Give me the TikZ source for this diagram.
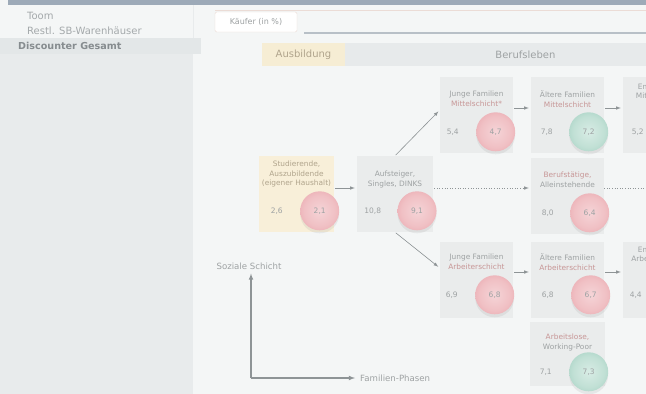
\documentclass[tikz,border=0pt]{standalone}
\usepackage{fontspec}
\setmainfont{DejaVu Sans}
\usetikzlibrary{arrows}
\usetikzlibrary{positioning}
\usetikzlibrary{shadows}

\definecolor{pagebg}{HTML}{F4F6F6}
\definecolor{panelbg}{HTML}{E8EBEC}
\definecolor{rowbg}{HTML}{E3E7E8}
\definecolor{topbar}{HTML}{9DAAB8}
\definecolor{menugray}{HTML}{A4A9AB}
\definecolor{menudark}{HTML}{868C8F}
\definecolor{boxgray}{HTML}{EAECEC}
\definecolor{boxyellow}{HTML}{F8EFD9}
\definecolor{hdryellow}{HTML}{F6EDD4}
\definecolor{hdrgray}{HTML}{E7EAEB}
\definecolor{textgray}{HTML}{9EA2A3}
\definecolor{textwarm}{HTML}{B0A48C}
\definecolor{linkred}{HTML}{C79696}
\definecolor{linegray}{HTML}{8E9496}
\definecolor{tabborder}{HTML}{EBDCD6}
\definecolor{tabrule}{HTML}{B8C0C7}
\definecolor{ballred0}{HTML}{F5D4D7}
\definecolor{ballred1}{HTML}{F0C0C4}
\definecolor{ballred2}{HTML}{E79EA6}
\definecolor{ballred3}{HTML}{EAAEB4}
\definecolor{ballred4}{HTML}{F1CFD2}
\definecolor{ballgreen0}{HTML}{D8ECE5}
\definecolor{ballgreen1}{HTML}{C1E0D5}
\definecolor{ballgreen2}{HTML}{9ACBBB}
\definecolor{ballgreen3}{HTML}{AFD6C9}
\definecolor{ballgreen4}{HTML}{CFE6DE}

\pgfdeclareradialshading{redshade}{\pgfpoint{0bp}{0bp}}{%
  color(0bp)=(ballred0); color(20bp)=(ballred1); color(38bp)=(ballred2);
  color(46bp)=(ballred3); color(50bp)=(ballred4)}
\pgfdeclareradialshading{greenshade}{\pgfpoint{0bp}{0bp}}{%
  color(0bp)=(ballgreen0); color(20bp)=(ballgreen1); color(38bp)=(ballgreen2);
  color(46bp)=(ballgreen3); color(50bp)=(ballgreen4)}

\tikzset{
  box/.style={fill=boxgray, minimum width=73pt, minimum height=76pt, inner sep=0pt},
  ybox/.style={box, fill=boxyellow},
  title/.style={font=\fontsize{7.4}{9.5}\selectfont, text=textgray, align=center, inner sep=0pt},
  pct/.style={font=\fontsize{7.5}{8}\selectfont, text=textgray, minimum width=16pt, inner sep=0pt},
  ball/.style={circle, minimum size=39pt, inner sep=0pt, font=\fontsize{7.5}{8}\selectfont,
    text=textgray, drop shadow={opacity=0.12, shadow xshift=0pt, shadow yshift=-3pt}},
  redball/.style={ball, shading=redshade},
  greenball/.style={ball, shading=greenshade},
  link/.style={->, draw=linegray, line width=0.6pt, shorten >=2pt, shorten <=1pt},
  dotlink/.style={link, dotted},
  axisline/.style={->, draw=linegray, line width=1.1pt},
  axislbl/.style={font=\fontsize{8.6}{10}\selectfont, text=textgray, inner sep=2pt},
  hdr/.style={minimum height=23pt, inner sep=0pt, font=\fontsize{10}{12}\selectfont},
  menu/.style={font=\fontsize{10}{12}\selectfont, text=menugray, inner sep=0pt, anchor=west},
}

\begin{document}
\begin{tikzpicture}[x=1pt, y=-1pt, >=latex]
  \useasboundingbox (0,0) rectangle (646,394);
  \clip (0,0) rectangle (646,394);

  % Hintergrund
  \fill [pagebg] (0,0) rectangle (646,394);
  \fill [panelbg] (0,54) rectangle (193,394);
  \fill [rowbg] (0,38) rectangle (201,54);
  \fill [topbar] (8,0) rectangle (646,5);
  \draw [panelbg, line width=0.8pt] (193.5,5) -- (193.5,38);

  % Menue links
  \node [menu] (toom) at (27,16) {Toom};
  \node [menu] (restl) at (27,31) {Restl. SB-Warenhäuser};
  \node [menu, text=menudark, font=\fontsize{9.6}{12}\selectfont\bfseries] (discounter) at (18,46) {Discounter Gesamt};

  % Reiter
  \draw [tabborder, line width=0.5pt] (215,10) -- (646,10);
  \node [draw=tabborder, fill=white, rounded corners=1.5pt, minimum width=82pt, minimum height=20pt,
    font=\fontsize{8}{9}\selectfont, text=textgray] (kaeufer) at (256,22) {Käufer (in \%)};
  \draw [tabrule, line width=1.2pt] (304,33) -- (646,33);

  \node [hdr, fill=hdryellow, text=textwarm, minimum width=83pt] (ausbildung) at (303.5,54.5) {Ausbildung};
  \node [hdr, fill=hdrgray, text=textgray, minimum width=360pt, right = 0pt of ausbildung] (berufsleben) {Berufsleben};

  % Ausbildung
  \node [ybox, minimum width=75pt] (studbox) at (296.5,194) {};
  \node [title, text=textwarm, below = 5pt of studbox.north] (studtext) {Studierende,\\Auszubildende\\(eigener Haushalt)};
  \node [pct] (studpct) at ([shift={(18,55)}]studbox.north west) {2,6};
  \node [redball, right = 15pt of studpct] (studball) {2,1};

  \node [box, minimum width=76pt] (aufbox) at (395,194) {};
  \node [title, below = 15pt of aufbox.north] (auftext) {Aufsteiger,\\Singles, DINKS};
  \node [pct] (aufpct) at ([shift={(16,55)}]aufbox.north west) {10,8};
  \node [redball, right = 16pt of aufpct] (aufball) {9,1};

  % Mittelschicht
  \node [box] (jmbox) at (476.5,115) {};
  \node [title, below = 14pt of jmbox.north] (jmtext) {Junge Familien\\\textcolor{linkred}{Mittelschicht*}};
  \node [pct] (jmpct) at ([shift={(13,55)}]jmbox.north west) {5,4};
  \node [redball, right = 15pt of jmpct] (jmball) {4,7};

  \node [box] (ambox) at (567.5,115) {};
  \node [title, below = 14pt of ambox.north] (amtext) {Ältere Familien\\\textcolor{linkred}{Mittelschicht}};
  \node [pct] (ampct) at ([shift={(16,55)}]ambox.north west) {7,8};
  \node [greenball, right = 14pt of ampct] (amball) {7,2};

  \node [box] (embox) at (659.5,115) {};
  \node [title, below = 7pt of embox.north] (emtext) {Empty Nest\\Mittelschicht};
  \node [pct] (empct) at ([shift={(15,55)}]embox.north west) {5,2};

  % Berufstaetige
  \node [box] (berufbox) at (567.5,196) {};
  \node [title, below = 14pt of berufbox.north] (beruftext) {\textcolor{linkred}{Berufstätige,}\\Alleinstehende};
  \node [pct] (berufpct) at ([shift={(17,55)}]berufbox.north west) {8,0};
  \node [redball, right = 14pt of berufpct] (berufball) {6,4};

  % Arbeiterschicht
  \node [box] (jabox) at (476.5,280) {};
  \node [title, below = 12pt of jabox.north] (jatext) {Junge Familien\\\textcolor{linkred}{Arbeiterschicht}};
  \node [pct] (japct) at ([shift={(12,53)}]jabox.north west) {6,9};
  \node [redball, right = 15pt of japct] (jaball) {6,8};

  \node [box] (aabox) at (567.5,280) {};
  \node [title, below = 12pt of aabox.north] (aatext) {Ältere Familien\\\textcolor{linkred}{Arbeiterschicht}};
  \node [pct] (aapct) at ([shift={(17,53)}]aabox.north west) {6,8};
  \node [redball, right = 15pt of aapct] (aaball) {6,7};

  \node [box] (eabox) at (659.5,280) {};
  \node [title, below = 5pt of eabox.north] (eatext) {Empty Nest\\Arbeiterschicht};
  \node [pct] (eapct) at ([shift={(13,53)}]eabox.north west) {4,4};

  \node [box, minimum width=75pt, minimum height=64pt] (arbbox) at (567.5,354) {};
  \node [title, below = 12pt of arbbox.north] (arbtext) {\textcolor{linkred}{Arbeitslose,}\\Working-Poor};
  \node [pct] (arbpct) at ([shift={(16,50)}]arbbox.north west) {7,1};
  \node [greenball, right = 15pt of arbpct] (arbball) {7,3};

  \coordinate (rand) at (660,188);

  \draw [link] ([yshift=6pt]studbox.east) -- ([yshift=6pt]aufbox.west);
  \draw [link] (aufbox.north) -- ([yshift=5pt]jmbox.west);
  \draw [link] (aufbox.south) -- ([yshift=12pt]jabox.west);
  \draw [dotlink] ([yshift=6pt]aufbox.east) -- ([yshift=8pt]berufbox.west);
  \draw [dotted, draw=linegray, line width=0.6pt] ([yshift=8pt]berufbox.east) -- (rand);
  \draw [link] ([yshift=7pt]jmbox.east) -- ([yshift=7pt]ambox.west);
  \draw [link] ([yshift=7pt]ambox.east) -- ([yshift=7pt]embox.west);
  \draw [link] ([yshift=8pt]jabox.east) -- ([yshift=8pt]aabox.west);
  \draw [link] ([yshift=8pt]aabox.east) -- ([yshift=8pt]eabox.west);

  % Achsen
  \coordinate (ursprung) at (251,378);
  \node [axislbl] (schicht) at (249,266) {Soziale Schicht};
  \node [axislbl, anchor=west] (phasen) at (358,378) {Familien-Phasen};
  \draw [axisline, shorten >=2pt] (ursprung) -- (ursprung |- schicht.south);
  \draw [axisline, shorten >=3pt] (ursprung) -- (phasen.west);
\end{tikzpicture}
\end{document}
